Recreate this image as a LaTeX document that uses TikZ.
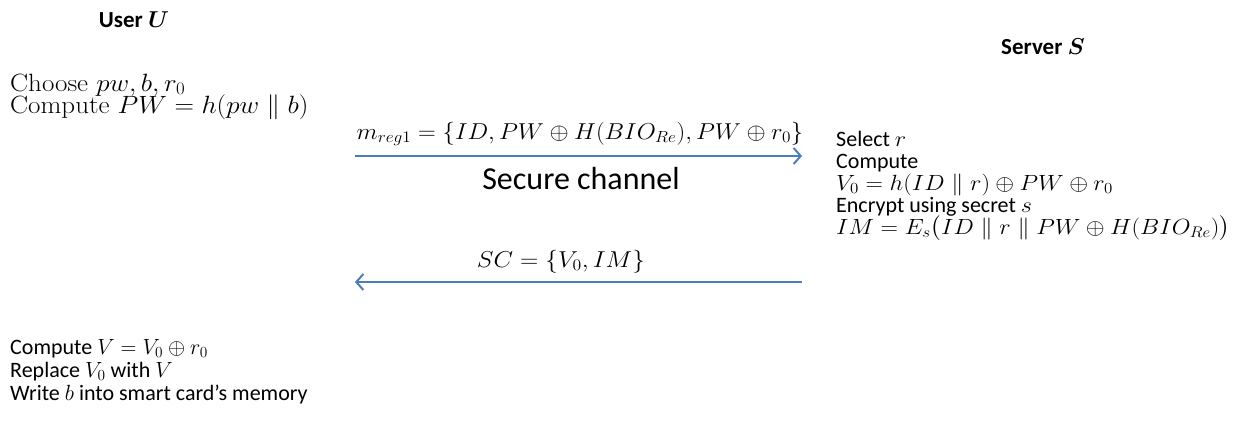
\RequirePackage{fix-cm}
\documentclass[tikz,border=0pt]{standalone}
\usepackage{amsmath}
\usepackage{graphicx}
\usepackage{fontspec}
\setsansfont{Carlito}
\usetikzlibrary{arrows.meta}
\definecolor{arrowblue}{RGB}{74,126,187}
\newcommand{\wm}[2][1.1]{\scalebox{#1}[1]{$#2$}}
\begin{document}
\begin{tikzpicture}[x=1pt,y=-1pt,
  hdr/.style={anchor=base,inner sep=0pt,font=\sffamily\bfseries\boldmath\fontsize{23}{26}\selectfont},
  serifline/.style={anchor=base west,inner sep=0pt,font=\rmfamily\fontsize{25}{28}\selectfont},
  sansline/.style={anchor=base west,inner sep=0pt,font=\sffamily\fontsize{22}{24}\selectfont},
  botline/.style={anchor=base west,inner sep=0pt,font=\sffamily\fontsize{22}{24}\selectfont},
  msglabel/.style={anchor=base,inner sep=0pt,font=\fontsize{23}{26}\selectfont},
  biglabel/.style={anchor=base,inner sep=0pt,font=\sffamily\fontsize{32}{36}\selectfont},
  msgarrow/.style={draw=arrowblue,line width=2pt,-{Straight Barb[length=7pt,width=16pt,line width=2pt]}}]
\useasboundingbox (0,0) rectangle (1241,434);
% headers
\node[hdr] (user) at (134,27) {User $U$};
\node[hdr] (server) at (1043,54) {Server $S$};
% user, top
\node[serifline] (u1) at (10,91) {\scalebox{1.08}[1]{Choose $pw, b, r_0$}};
\node[serifline] (u2) at (10,113) {\scalebox{1.08}[1]{Compute $PW=h(pw\parallel b)$}};
% message 1
\coordinate (a1s) at (355,156);
\coordinate (a1e) at (802,156);
\node[msglabel] (m1) at (580,139) {\wm[1.07]{m_{reg1}=\{ID, PW\oplus H(BIO_{Re}), PW\oplus r_0\}}};
\draw[msgarrow] (a1s) -- (a1e);
\node[biglabel] (sec) at (581,189) {Secure channel};
% server
\node[sansline] (s1) at (836,146) {Select \wm{r}};
\node[sansline] (s2) at (836,168) {Compute};
\node[sansline] (s3) at (836,190) {\wm{V_0=h(ID\parallel r)\oplus PW\oplus r_0}};
\node[sansline] (s4) at (836,212) {Encrypt using secret \wm{s}};
\node[sansline] (s5) at (836,234) {\wm{IM=E_s\bigl(ID\parallel r\parallel PW\oplus H(BIO_{Re})\bigr)}};
% message 2
\coordinate (a2s) at (802,282);
\coordinate (a2e) at (355,282);
\node[msglabel] (m2) at (561,267) {\wm{SC=\{V_0, IM\}}};
\draw[msgarrow] (a2s) -- (a2e);
% user, bottom
\node[botline] (u3) at (10,354) {Compute \wm[1]{V=V_0\oplus r_0}};
\node[botline] (u4) at (10,377) {Replace $V_0$ with $V$};
\node[botline] (u5) at (10,400) {Write $b$ into smart card’s memory};
\end{tikzpicture}
\end{document}
